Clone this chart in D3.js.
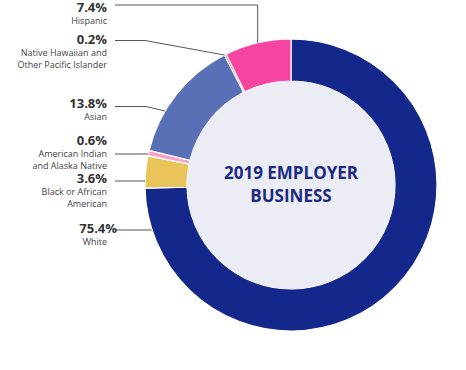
<!DOCTYPE html>
<html lang="en">
    <head>
        <meta charset="utf-8">
        <title>2019 Employer Business</title>
        <script src="https://d3js.org/d3.v7.min.js"></script>
        <style>
            body {
                margin: 0;
                background: white;
                font-family: "Open Sans", sans-serif;
            }
            .pct {
                font-weight: bold;
                font-size: 13px;
                fill: #333;
            }
            .name {
                font-size: 9px;
                fill: #444;
            }
            .leader {
                fill: none;
                stroke: #555;
                stroke-width: 1;
            }
        </style>
    </head>
    <body>
        <script type="text/javascript">

            // data, in the order the slices go clockwise from 12 o'clock
            var groups = ["White", "Black or African American", "American Indian and Alaska Native",
                          "Asian", "Native Hawaiian and Other Pacific Islander", "Hispanic"];
            var shares = [75.4, 3.6, 0.6, 13.8, 0.2, 7.4];
            var colors = ["#13288a", "#e8c45a", "#f6a3c9", "#5a70b6", "#9c1f1f", "#f545a0"];
            var nameLines = [["White"], ["Black or African", "American"], ["American Indian", "and Alaska Native"],
                             ["Asian"], ["Native Hawaiian and", "Other Pacific Islander"], ["Hispanic"]];
            var title = ["2019 EMPLOYER", "BUSINESS"];

            // label layout: baseline of the percent, y of the leader, elbow x, where on the slice the leader ends
            var labelLayout = [
                { y: 233, lineY: 230, elbow: 150, t: 0.94, dx: 10 },
                { y: 183, lineY: 181, elbow: 140, t: 0.23, dx: 0 },
                { y: 145, lineY: 154, elbow: 140, t: 0.35, dx: 0 },
                { y: 108, lineY: 106.5, elbow: 146, t: 0.34, dx: 0 },
                { y: 44, lineY: 40.5, elbow: 145, t: 0.0, dx: 0 },
                { y: 12, lineY: 5, elbow: null, t: 0.5, dx: 0 }
            ];

            var width = 466, height = 370;
            var cx = 291, cy = 185;
            var outerR = 146, innerR = 104;
            var textRight = 107, lineStart = 115;

            var svg = d3.select("body")
                .append("svg")
                .attr("width", width)
                .attr("height", height);

            var data = groups.map(function(g, i) {
                return { group: g, share: shares[i], color: colors[i], lines: nameLines[i], layout: labelLayout[i] };
            });

            var pie = d3.pie()
                .sort(null)
                .value(d => d.share);

            var arc = d3.arc()
                .innerRadius(innerR)
                .outerRadius(outerR);

            var arcs = pie(data);

            var g = svg.append("g")
                .attr("transform", `translate(${cx},${cy})`);

            g.selectAll("path.slice")
                .data(arcs)
                .enter()
                .append("path")
                .attr("class", "slice")
                .attr("d", arc)
                .attr("fill", d => d.data.color)
                .attr("stroke", "white")
                .attr("stroke-width", 1.2);

            // centre disc
            g.append("circle")
                .attr("r", innerR)
                .attr("fill", "#ececf5");

            g.selectAll("text.title")
                .data(title)
                .enter()
                .append("text")
                .attr("class", "title")
                .attr("text-anchor", "middle")
                .attr("y", (d, i) => -6 + i * 23)
                .attr("fill", "#1a2a82")
                .style("font-weight", "bold")
                .style("font-size", "17px")
                .text(d => d);

            // leader lines
            function endPoint(a) {
                var L = a.data.layout;
                var ang = a.startAngle + (a.endAngle - a.startAngle) * L.t;
                return [cx + Math.sin(ang) * outerR, cy - Math.cos(ang) * outerR];
            }

            svg.selectAll("path.leader")
                .data(arcs)
                .enter()
                .append("path")
                .attr("class", "leader")
                .attr("d", function(a) {
                    var L = a.data.layout;
                    var p = endPoint(a);
                    if (L.elbow === null) {
                        return `M${lineStart},${L.lineY}H${p[0]}V${p[1]}`;
                    }
                    if (Math.abs(p[1] - L.lineY) < 3) {
                        return `M${lineStart},${L.lineY}H${p[0]}`;
                    }
                    return `M${lineStart},${L.lineY}H${L.elbow}L${p[0]},${p[1]}`;
                });

            var labels = svg.selectAll("g.label")
                .data(arcs)
                .enter()
                .append("g")
                .attr("class", "label");

            labels.append("text")
                .attr("class", "pct")
                .attr("text-anchor", "end")
                .attr("x", d => textRight + d.data.layout.dx)
                .attr("y", d => d.data.layout.y)
                .text(d => d.data.share.toFixed(1) + "%");

            labels.each(function(a) {
                var L = a.data.layout;
                d3.select(this).selectAll("text.name")
                    .data(a.data.lines)
                    .enter()
                    .append("text")
                    .attr("class", "name")
                    .attr("text-anchor", "end")
                    .attr("x", textRight)
                    .attr("y", (d, i) => L.y + 12 + i * 11.8)
                    .text(d => d);
            });

        </script>
    </body>
</html>
